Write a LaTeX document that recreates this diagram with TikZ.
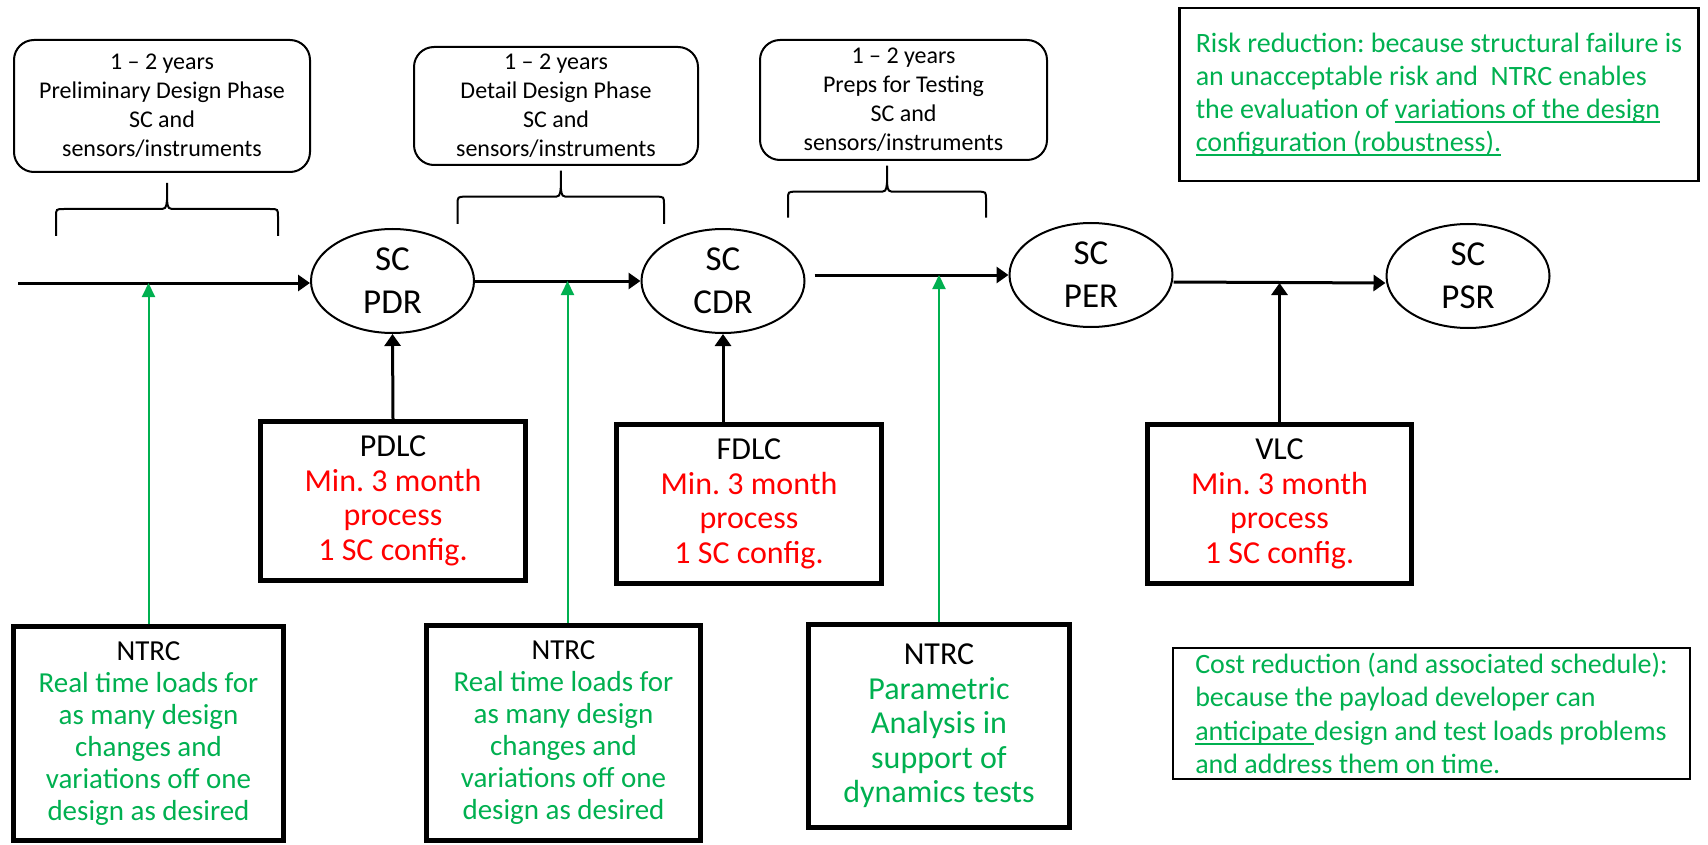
\documentclass[tikz,border=0pt]{standalone}
\usepackage{fontspec}
\setmainfont{Carlito}
\usetikzlibrary{shapes.geometric,arrows.meta}
\frenchspacing
\definecolor{mygreen}{RGB}{0,176,80}
\definecolor{myred}{RGB}{255,0,0}
\newcommand{\rd}[1]{\textcolor{myred}{#1}}
\newcommand{\gr}[1]{\textcolor{mygreen}{#1}}
\newsavebox{\ulbox}
\newcommand{\uln}[1]{\sbox{\ulbox}{#1}\rlap{\rule[-4.5pt]{\wd\ulbox}{1.8pt}}#1}
\newcommand{\phasebrace}[4]{%
    \draw[brc] (#1,#3) -- (#1,{#4+8}) .. controls (#1,#4) .. ({#1+8},#4) -- ({(#1+#2)/2-9},#4) .. controls ({(#1+#2)/2-1},#4) .. ({(#1+#2)/2},{#4-9}) -- ({(#1+#2)/2},{#4-26});
    \draw[brc] ({(#1+#2)/2},{#4-9}) .. controls ({(#1+#2)/2+1},#4) .. ({(#1+#2)/2+9},#4) -- ({#2-8},#4) .. controls (#2,#4) .. (#2,{#4+8}) -- (#2,#3);
}
\tikzset{
    review/.style={draw, ellipse, line width=2pt, minimum width=163pt, minimum height=104pt, inner sep=0pt, align=center, font=\fontsize{35}{43}\selectfont},
    phase/.style={draw, rounded corners=20pt, line width=2pt, align=center, inner sep=0pt, font=\fontsize{24}{29}\selectfont},
    lcbox/.style={draw, line width=5pt, align=center, inner sep=0pt, minimum width=265pt, minimum height=159pt, font=\fontsize{32}{34.5}\selectfont},
    ntrc/.style={draw, line width=5pt, align=center, inner sep=0pt, font=\fontsize{29}{32}\selectfont},
    note/.style={draw, align=left, inner sep=0pt, text=mygreen},
    flow/.style={-{Triangle[length=12pt,width=16pt]}, line width=3pt},
    gflow/.style={-{Triangle[length=14pt,width=13pt]}, line width=2pt, draw=mygreen, fill=mygreen},
    brc/.style={line width=2pt}
}
\begin{document}
\begin{tikzpicture}[x=1pt, y=-1pt]
    \useasboundingbox (0,0) rectangle (1708,845);

    % reviews on the time line
    \node[review] (pdr) at (392.5,281) {SC\\PDR};
    \node[review] (cdr) at (723,281) {SC\\CDR};
    \node[review] (per) at (1091,275) {SC\\PER};
    \node[review] (psr) at (1468,276) {SC\\PSR};
    \coordinate (t0) at (18,283);
    \coordinate (cm) at ([xshift=9pt]cdr.east);
    \coordinate (pm) at ([yshift=-7pt]per.east);
    \coordinate (pp) at ([yshift=-7pt]psr.west);

    % phases
    \node[phase, minimum width=296pt, minimum height=132pt] (ph1) at (162,106) {1 -- 2 years\\Preliminary Design Phase\\SC and\\sensors/instruments};
    \node[phase, minimum width=284pt, minimum height=118pt] (ph2) at (556,106) {1 -- 2 years\\Detail Design Phase\\SC and\\sensors/instruments};
    \node[phase, minimum width=287pt, minimum height=120pt] (ph3) at (903.5,100) {1 -- 2 years\\Preps for Testing\\SC and\\sensors/instruments};
    \phasebrace{56}{278}{236}{209}
    \phasebrace{457.6}{664}{224}{196.7}
    \phasebrace{788}{986}{217.7}{191.7}

    % load cycles
    \node[lcbox] (pdlc) at (393,501) {PDLC\\\rd{Min. 3 month}\\\rd{process}\\\rd{1 SC config.}};
    \node[lcbox] (fdlc) at (749,504) {FDLC\\\rd{Min. 3 month}\\\rd{process}\\\rd{1 SC config.}};
    \node[lcbox, minimum width=264pt] (vlc) at (1279.5,504) {VLC\\\rd{Min. 3 month}\\\rd{process}\\\rd{1 SC config.}};

    % NTRC
    \node[ntrc, minimum width=270pt, minimum height=214pt] (n1) at (148.5,733.5) {NTRC\\\gr{Real time loads for}\\\gr{as many design}\\\gr{changes and}\\\gr{variations off one}\\\gr{design as desired}};
    \node[ntrc, minimum width=274pt, minimum height=215pt] (n2) at (563.5,733) {NTRC\\\gr{Real time loads for}\\\gr{as many design}\\\gr{changes and}\\\gr{variations off one}\\\gr{design as desired}};
    \node[ntrc, minimum width=261pt, minimum height=203pt, font=\fontsize{32}{34.5}\selectfont] (n3) at (939,726) {NTRC\\\gr{Parametric}\\\gr{Analysis in}\\\gr{support of}\\\gr{dynamics tests}};

    % notes
    \node[note, line width=2.5pt, minimum width=519pt, minimum height=173pt, font=\fontsize{28}{33}\selectfont] (risk) at (1439,94.5) {Risk reduction: because structural failure is\\an unacceptable risk and\ \ NTRC enables\\the evaluation of \uln{variations of the design}\\\uln{configuration (robustness).}};
    \node[note, line width=2pt, minimum width=517pt, minimum height=131pt, font=\fontsize{28}{33.5}\selectfont] (cost) at (1431.5,713.5) {Cost reduction (and associated schedule):\\because the payload developer can\\\uln{anticipate\ }design and test loads problems\\and address them on time.};

    \draw[flow] (t0) -- (t0 -| pdr.west);
    \draw[flow] (pdr.east) -- (cdr.west);
    \draw[flow] (cm |- per.west) -- (per.west);
    \draw[flow] (pm) -- (pp);
    \draw[flow] (pdlc.north) -- (pdr.south);
    \draw[flow] (cdr.south |- fdlc.north) -- (cdr.south);
    \draw[flow] (vlc.north) -- (vlc.north |- pp);
    \draw[gflow] (n1.north) -- (n1.north |- t0);
    \draw[gflow] ([xshift=4pt]n2.north) -- ([xshift=4pt]n2.north |- pdr.east);
    \draw[gflow] (n3.north) -- (n3.north |- per.west);
\end{tikzpicture}
\end{document}
